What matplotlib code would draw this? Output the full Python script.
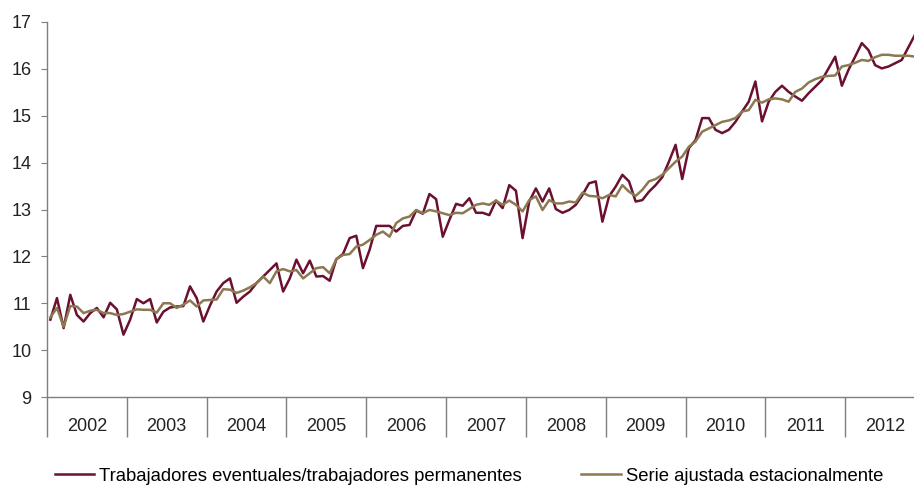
import numpy as np
import matplotlib.pyplot as plt

plt.rcParams['font.family'] = ['Liberation Sans', 'DejaVu Sans']

# datos mensuales 2002-2012
years = list(range(2002, 2013))

ratio = [10.65, 11.11, 10.47, 11.18, 10.75, 10.61, 10.79, 10.90, 10.70, 11.01, 10.87, 10.33,
         10.65, 11.09, 11.00, 11.09, 10.59, 10.82, 10.91, 10.93, 10.94, 11.36, 11.11, 10.61,
         10.95, 11.25, 11.43, 11.53, 11.01, 11.14, 11.25, 11.43, 11.57, 11.71, 11.85, 11.25,
         11.53, 11.93, 11.64, 11.91, 11.57, 11.58, 11.48, 11.94, 12.05, 12.39, 12.44, 11.75,
         12.14, 12.65, 12.65, 12.65, 12.53, 12.65, 12.67, 12.98, 12.91, 13.33, 13.22, 12.42,
         12.78, 13.12, 13.08, 13.24, 12.93, 12.93, 12.88, 13.19, 13.03, 13.52, 13.40, 12.39,
         13.17, 13.45, 13.17, 13.45, 13.01, 12.93, 12.99, 13.10, 13.31, 13.56, 13.60, 12.74,
         13.28, 13.49, 13.74, 13.60, 13.17, 13.20, 13.38, 13.52, 13.69, 14.02, 14.38, 13.65,
         14.31, 14.48, 14.95, 14.95, 14.70, 14.63, 14.70, 14.87, 15.09, 15.30, 15.73, 14.88,
         15.30, 15.51, 15.64, 15.51, 15.41, 15.32, 15.48, 15.62, 15.76, 16.01, 16.26, 15.64,
         15.98, 16.26, 16.55, 16.40, 16.08, 16.01, 16.05, 16.12, 16.19, 16.46, 16.73, 16.90]

ajustada = [10.70, 10.90, 10.50, 10.94, 10.93, 10.79, 10.84, 10.86, 10.79, 10.79, 10.75, 10.77,
            10.82, 10.87, 10.86, 10.86, 10.80, 11.00, 11.00, 10.90, 10.97, 11.06, 10.93, 11.06,
            11.07, 11.08, 11.30, 11.29, 11.22, 11.27, 11.34, 11.43, 11.57, 11.43, 11.68, 11.73,
            11.68, 11.71, 11.53, 11.64, 11.75, 11.77, 11.64, 11.94, 12.03, 12.05, 12.21, 12.25,
            12.35, 12.46, 12.53, 12.42, 12.71, 12.81, 12.85, 12.99, 12.92, 12.99, 12.96, 12.92,
            12.88, 12.93, 12.92, 13.01, 13.10, 13.13, 13.10, 13.19, 13.10, 13.19, 13.10, 12.96,
            13.20, 13.28, 12.99, 13.20, 13.13, 13.13, 13.17, 13.15, 13.36, 13.29, 13.28, 13.24,
            13.31, 13.28, 13.52, 13.38, 13.29, 13.42, 13.60, 13.65, 13.74, 13.88, 14.02, 14.13,
            14.34, 14.45, 14.66, 14.73, 14.80, 14.87, 14.90, 14.95, 15.09, 15.12, 15.34, 15.28,
            15.35, 15.37, 15.35, 15.30, 15.51, 15.58, 15.71, 15.78, 15.83, 15.85, 15.86, 16.05,
            16.08, 16.13, 16.19, 16.17, 16.25, 16.30, 16.30, 16.28, 16.28, 16.28, 16.26, 16.25]

etiquetas = ['Trabajadores eventuales/trabajadores permanentes',
             'Serie ajustada estacionalmente']

mes = np.arange(len(ratio))
x = years[0] + (mes + 0.5) / 12

fig = plt.figure(figsize=(9.14, 4.87), dpi=100)
# el eje sigue un poco mas alla del borde derecho, como en el original
ax = fig.add_axes([47/914, 90/487, 878/914, 375/487])

l1, = ax.plot(x, ratio, color='#6b1030', lw=1.8)
l2, = ax.plot(x, ajustada, color='#8c7851', lw=1.8)

ax.set_xlim(years[0], years[-1] + 1)
ax.set_ylim(9, 17)

for s in ['top', 'right']:
    ax.spines[s].set_visible(False)
for s in ['left', 'bottom']:
    ax.spines[s].set_color('#7f7f7f')
    ax.spines[s].set_linewidth(1.0)

ax.set_yticks(range(9, 18))
ax.tick_params(axis='y', direction='out', length=4, color='#7f7f7f',
               labelsize=13, labelcolor='#222222', pad=7)

ax.set_xticks(years + [years[-1] + 1])
ax.set_xticklabels([])
ax.set_xticks([y + 0.5 for y in years], minor=True)
ax.set_xticklabels([str(y) for y in years], minor=True)
ax.tick_params(axis='x', which='major', direction='out', length=29,
               color='#7f7f7f', width=1.0)
ax.tick_params(axis='x', which='minor', length=0, labelsize=13,
               labelcolor='#222222', pad=15)

fig.legend([l1, l2], etiquetas, loc='center', bbox_to_anchor=(0.513, 0.022),
           ncol=2, frameon=False, fontsize=13.3, handlelength=2.15,
           handletextpad=0.27, columnspacing=3.2)

fig.savefig('out.png', dpi=100)
